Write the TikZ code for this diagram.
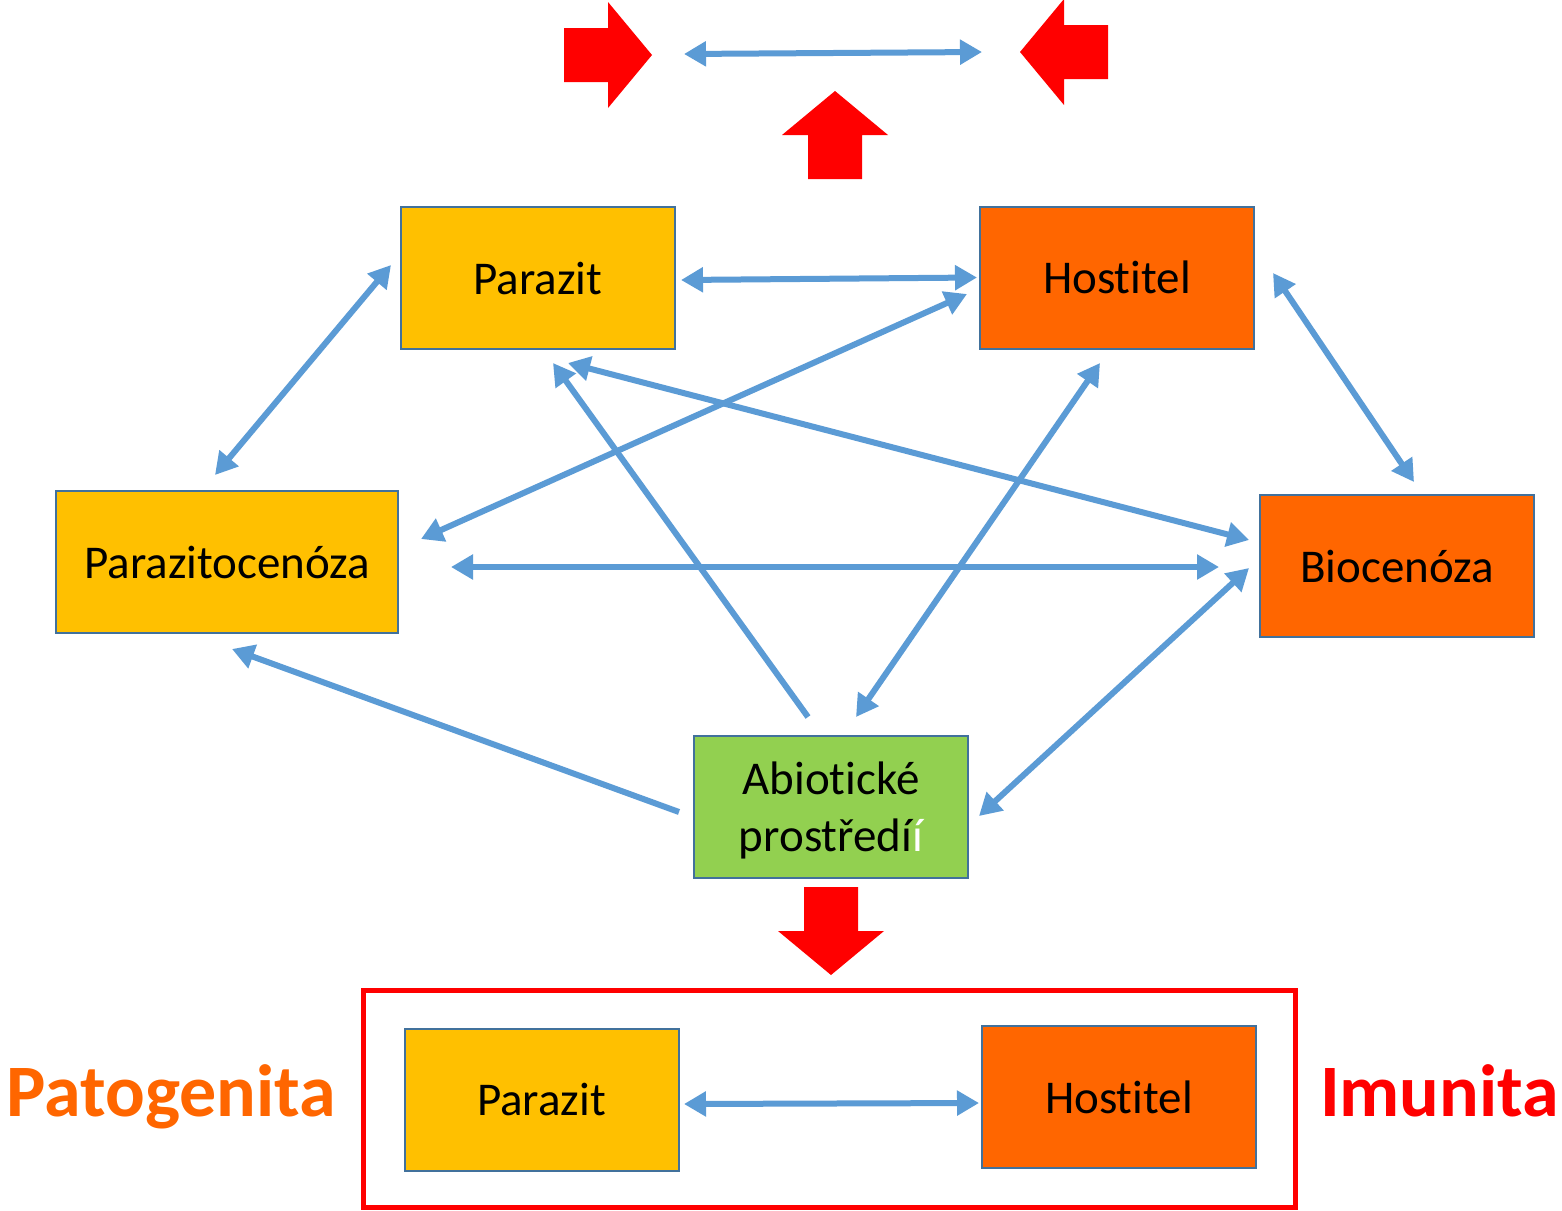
\documentclass[tikz,border=0pt]{standalone}
\usepackage{fontspec}
\setmainfont{Carlito}[Ligatures=NoCommon]
\usetikzlibrary{arrows.meta,positioning,calc}
\definecolor{boxbdr}{RGB}{65,113,156}
\definecolor{parclr}{RGB}{255,192,0}
\definecolor{hostclr}{RGB}{255,102,0}
\definecolor{abioclr}{RGB}{146,208,80}
\definecolor{arrclr}{RGB}{91,155,213}
\definecolor{redclr}{RGB}{255,0,0}
\tikzset{
  box/.style={rectangle,draw=boxbdr,line width=2pt,
    minimum width=274pt,minimum height=142pt,
    font=\fontsize{47}{57}\selectfont,align=center,inner sep=0pt},
  parbox/.style={box,fill=parclr},
  hostbox/.style={box,fill=hostclr},
  abiobox/.style={box,fill=abioclr},
  barr/.style={{Triangle[length=22pt,width=24pt]}-{Triangle[length=22pt,width=24pt]},
    line width=6pt,color=arrclr},
  sarr/.style={-{Triangle[length=22pt,width=24pt]},line width=6pt,color=arrclr},
  redarr/.style={fill=redclr,draw=none},
  sidelbl/.style={font=\fontsize{74}{80}\selectfont\bfseries,anchor=base},
}
\begin{document}
\begin{tikzpicture}[x=1pt,y=-1pt]
  \useasboundingbox[fill=white] (0,0) rectangle (1562,1210);

  %% red block arrows
  \foreach \tx/\ty/\ang in {652/55/0,1020/52/180,835/91/90,831/975/-90}{
    \fill[redarr,shift={(\tx,\ty)},rotate=\ang]
      (0,0) -- (-44,53) -- (-44,27) -- (-88,27) -- (-88,-27)
      -- (-44,-27) -- (-44,-53) -- cycle;
  }
  \coordinate (topL) at (684,54);
  \coordinate (topR) at (982,52);
  \draw[barr] (topL) -- (topR);

  %% boxes
  \node[parbox] (par) at (538,278) {Parazit};
  \node[hostbox] (host) at (1117,277.5) {Hostitel};
  \node[parbox,minimum width=342pt] (pzc) at (227,562) {Parazitocenóza};
  \node[hostbox] (bio) at (1397,566) {Biocenóza};
  \node[abiobox] (abio) at (831,806.5) {\rule{0pt}{40pt}Abiotické\\prostředí{\color{white}í}};

  %% connectors
  \draw[barr] ($(par.east)+(5,2)$) -- ($(host.west)+(-2,0)$);
  \draw[barr] ($(pzc.north)+(-12,-15)$) -- ($(par.west)+(-9,-13)$);
  \draw[barr] ($(host.west)+(-12,16.5)$) -- ($(pzc.east)+(22,-23)$);
  \draw[barr] ($(host.east)+(18,-4.5)$) -- ($(bio.north)+(17,-12)$);
  \draw[barr] ($(par.south)+(30,13)$) -- ($(bio.west)+(-10,-26)$);
  \draw[sarr] ($(abio.north)+(-23,-17.5)$) -- ($(par.south)+(15,13)$);
  \draw[barr] ($(host.south)+(-17,13.5)$) -- ($(abio.north)+(25,-17.5)$);
  \draw[barr] ($(pzc.east)+(52,5)$) -- ($(bio.west)+(-40,1)$);
  \draw[sarr] ($(abio.west)+(-14,5.5)$) -- ($(pzc.south)+(5,15)$);
  \draw[barr] ($(abio.east)+(10,9.5)$) -- ($(bio.west)+(-10,2)$);

  %% bottom frame
  \node[draw=redclr,line width=5pt,minimum width=932pt,minimum height=217pt,
        inner sep=0pt] (frame) at (829,1098.5) {};
  \node[parbox] (par2) at (541.5,1099.5) {Parazit};
  \node[hostbox] (host2) at (1119,1097) {Hostitel};
  \draw[barr] ($(par2.east)+(4.5,4.5)$) -- ($(host2.west)+(-2,6)$);

  \node[sidelbl,text=hostclr] (pato) at (171.5,1116) {Patogenita};
  \node[sidelbl,text=redclr] (imun) at (1439.5,1116) {Imunita};
\end{tikzpicture}
\end{document}
